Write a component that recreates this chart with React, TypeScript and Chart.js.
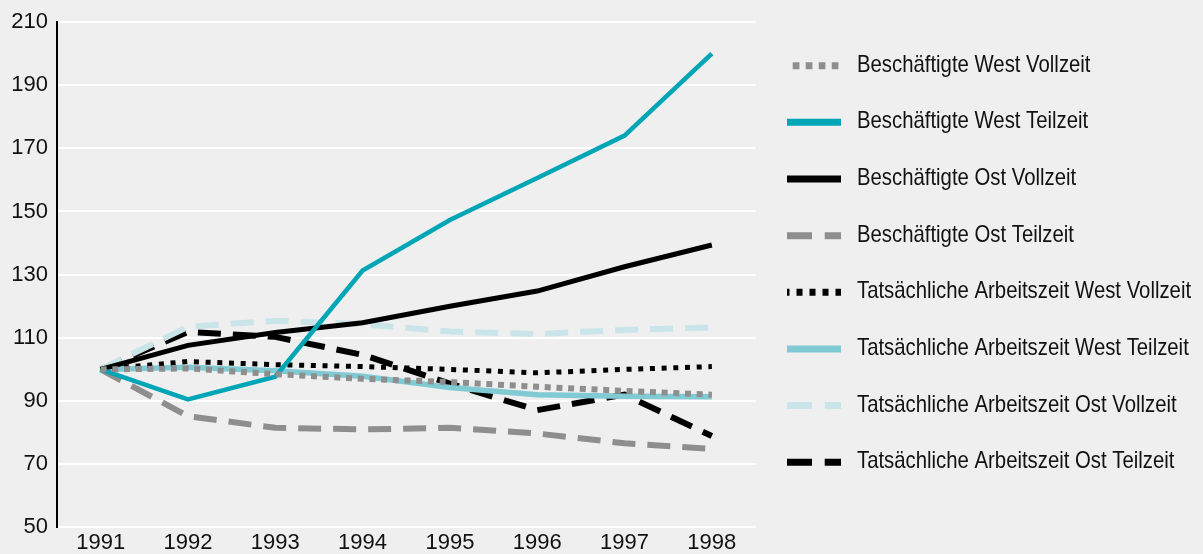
import React, { useEffect, useRef } from "react";
import { Chart, registerables } from "chart.js";

Chart.register(...registerables);

const years = ["1991", "1992", "1993", "1994", "1995", "1996", "1997", "1998"];
const yTicks = [50, 70, 90, 110, 130, 150, 170, 190, 210];

const seriesLabels = [
  "Beschäftigte West Vollzeit",
  "Beschäftigte West Teilzeit",
  "Beschäftigte Ost Vollzeit",
  "Beschäftigte Ost Teilzeit",
  "Tatsächliche Arbeitszeit West Vollzeit",
  "Tatsächliche Arbeitszeit West Teilzeit",
  "Tatsächliche Arbeitszeit Ost Vollzeit",
  "Tatsächliche Arbeitszeit Ost Teilzeit",
];

const westVollzeit = [100, 100.3, 98.5, 97, 96, 94.5, 93.2, 92];
const westTeilzeit = [100, 90.5, 97.7, 131.3, 147.3, 160.6, 174, 200];
const ostVollzeit = [100, 107.6, 111.7, 114.8, 120, 124.8, 132.5, 139.4];
const ostTeilzeit = [100, 85.2, 81.5, 81, 81.5, 79.7, 76.6, 74.8];
const azWestVollzeit = [100, 102.5, 101.5, 100.9, 100, 98.9, 100, 100.9];
const azWestTeilzeit = [100, 100.7, 99.6, 97.8, 94.3, 92, 91.5, 91.3];
const azOstVollzeit = [100, 113.5, 115.4, 114.3, 112, 111.2, 112.5, 113.3];
const azOstTeilzeit = [100, 111.9, 110.3, 104.6, 95.5, 87.1, 92, 78.9];

const seriesValues = [
  westVollzeit,
  westTeilzeit,
  ostVollzeit,
  ostTeilzeit,
  azWestVollzeit,
  azWestTeilzeit,
  azOstVollzeit,
  azOstTeilzeit,
];

const GRAY = "#8e8e8e";
const TEAL = "#00a6b6";
const LIGHT_TEAL = "#80cad3";
const PALE_TEAL = "#c9e5e9";
const BLACK = "#000000";

const seriesColors = [GRAY, TEAL, BLACK, GRAY, BLACK, LIGHT_TEAL, PALE_TEAL, BLACK];
const seriesWidths = [6, 4.6, 5, 6, 5, 5.5, 6, 6];
const seriesDash: number[][] = [
  [6, 5.7],
  [],
  [],
  [23, 12],
  [5, 6.7],
  [],
  [23, 12],
  [23, 12],
];
const legendDash: number[][] = [
  [6.7, 6.3],
  [],
  [],
  [25, 12.7],
  [6, 7],
  [],
  [25, 12.7],
  [25, 12.7],
];
const legendDashOffset = [7.3, 0, 0, 0, 3.5, 0, 0, 0];

const FONT_TICK = '"Liberation Sans", Arial, sans-serif';
const FONT_LEGEND = '"Liberation Sans", Arial, sans-serif';

const sideLegend = {
  id: "sideLegend",
  afterDraw(chart: any) {
    const ctx = chart.ctx as CanvasRenderingContext2D;
    const x0 = 787;
    const x1 = 841;
    const tx = 857;
    const base0 = 71.7;
    const step = 56.65;
    ctx.save();
    chart.data.datasets.forEach((ds: any, i: number) => {
      const baseline = base0 + i * step;
      const cy = baseline - 6;
      ctx.beginPath();
      ctx.setLineDash(legendDash[i]);
      ctx.lineDashOffset = legendDashOffset[i];
      ctx.lineCap = "butt";
      ctx.lineWidth = 7;
      ctx.strokeStyle = ds.borderColor;
      ctx.moveTo(x0, cy);
      ctx.lineTo(x1, cy);
      ctx.stroke();
      ctx.setLineDash([]);
      ctx.fillStyle = "#111111";
      ctx.font = `24px ${FONT_LEGEND}`;
      ctx.textBaseline = "alphabetic";
      ctx.textAlign = "left";
      const w = ctx.measureText(ds.label).width;
      ctx.fillText(ds.label, tx, baseline, w * 0.847);
    });
    ctx.restore();
  },
};

export default function App() {
  const canvasRef = useRef<HTMLCanvasElement | null>(null);

  useEffect(() => {
    if (!canvasRef.current) return;
    const chart = new Chart(canvasRef.current, {
      type: "line",
      data: {
        labels: years,
        datasets: seriesLabels.map((label, i) => ({
          label,
          data: seriesValues[i],
          borderColor: seriesColors[i],
          backgroundColor: seriesColors[i],
          borderWidth: seriesWidths[i],
          borderDash: seriesDash[i],
          borderCapStyle: "butt" as const,
          borderJoinStyle: "miter" as const,
          pointRadius: 0,
          pointHoverRadius: 0,
          tension: 0,
          fill: false,
        })),
      },
      options: {
        responsive: false,
        animation: false,
        layout: { padding: { top: 22, right: 447.5, bottom: 0, left: 0 } },
        plugins: {
          legend: { display: false },
          tooltip: { enabled: false },
        },
        scales: {
          x: {
            offset: true,
            afterFit: (scale: any) => {
              scale.height = 26.7;
            },
            grid: { display: false, drawTicks: false },
            border: { display: false },
            ticks: {
              color: "#111111",
              padding: 4.7,
              font: { family: FONT_TICK, size: 22, lineHeight: 1 },
              maxRotation: 0,
              autoSkip: false,
            },
          },
          y: {
            min: 50,
            max: 210,
            afterBuildTicks: (scale: any) => {
              scale.ticks = yTicks.map((v) => ({ value: v }));
            },
            afterFit: (scale: any) => {
              scale.width = 57;
            },
            grid: { color: "#ffffff", lineWidth: 2, drawTicks: false },
            border: { display: true, color: "#000000", width: 2 },
            ticks: {
              color: "#111111",
              padding: 9,
              font: { family: FONT_TICK, size: 22, lineHeight: 1 },
            },
          },
        },
      },
      plugins: [sideLegend],
    });
    return () => chart.destroy();
  }, []);

  return (
    <div
      style={{
        position: "absolute",
        left: 0,
        top: 0,
        width: 1203,
        height: 554,
        background: "#efefef",
      }}
    >
      <canvas ref={canvasRef} width={1203} height={554} />
    </div>
  );
}
